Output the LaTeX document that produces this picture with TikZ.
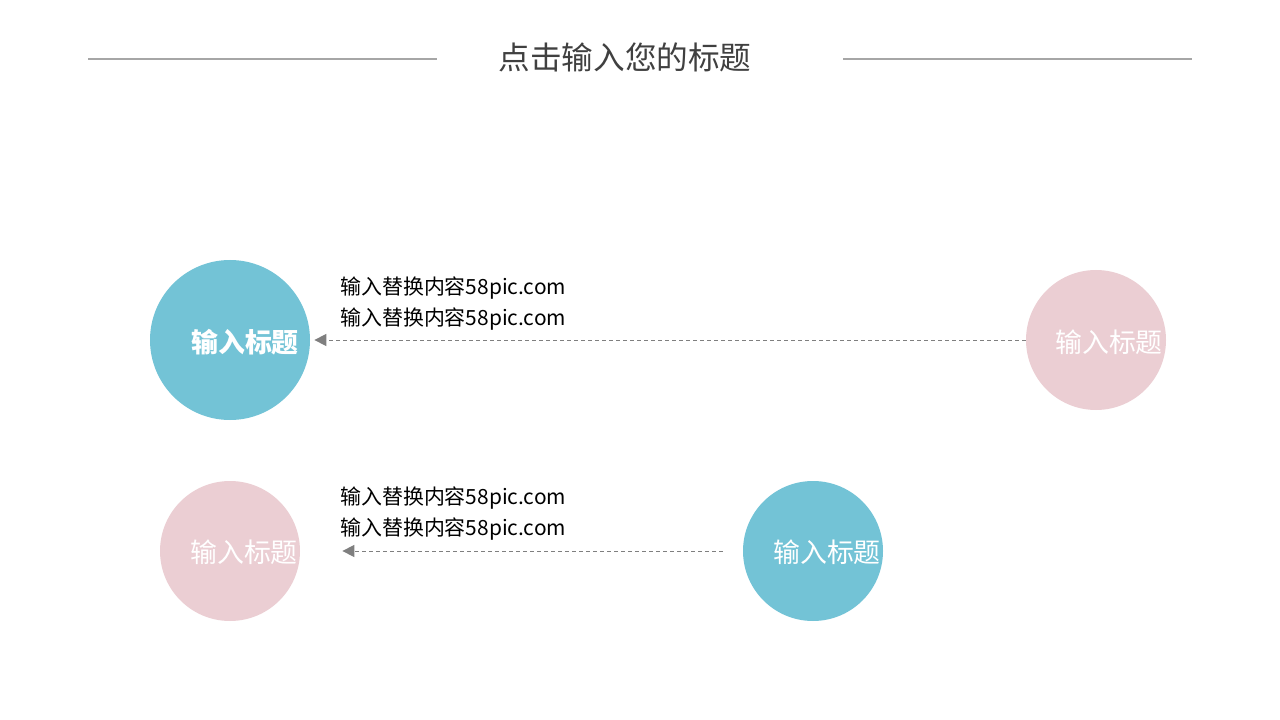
\documentclass[tikz,border=0pt]{standalone}
\usepackage{fontspec}
\setmainfont{Noto Sans CJK SC}
\usetikzlibrary{arrows.meta}

\definecolor{blueball}{HTML}{73C3D6}
\definecolor{pinkball}{HTML}{EBCED3}
\definecolor{rulegray}{HTML}{A6A6A6}
\definecolor{titlegray}{HTML}{404040}
\definecolor{linkgray}{HTML}{7F7F7F}

\tikzset{
  ball/.style={circle, inner sep=0pt, minimum size=#1},
  balltext/.style={text=white, font=\fontsize{15.3pt}{18pt}\selectfont, inner sep=0pt},
  note/.style={anchor=west, inner sep=0pt, text=black,
    font=\fontsize{11.9pt}{14pt}\selectfont},
  link/.style={draw=linkgray, line width=0.55pt, dash pattern=on 0.8mm off 0.6mm,
    -{Triangle[length=2.4mm,width=2.4mm,fill=linkgray]}}
}

\begin{document}
\begin{tikzpicture}[x=0.2mm, y=-0.2mm]
    \useasboundingbox (0, 0) rectangle (1280, 720);

    % title and rules
    \node[text=titlegray, font=\fontsize{18pt}{22pt}\selectfont] (title) at (625, 57) {点击输入您的标题};
    \coordinate (ruleL1) at (88, 59);
    \coordinate (ruleL2) at (437, 59);
    \coordinate (ruleR1) at (843, 59);
    \coordinate (ruleR2) at (1192, 59);
    \draw[rulegray, line width=0.6pt] (ruleL1) -- (ruleL2);
    \draw[rulegray, line width=0.6pt] (ruleR1) -- (ruleR2);

    % upper row
    \node[ball=32mm, fill=blueball] (blueA) at (230, 340) {};
    \node[balltext, font=\fontsize{15.3pt}{18pt}\selectfont\bfseries] (blueAtxt) at (245, 342) {输入标题};

    \node[ball=28mm, fill=pinkball] (pinkA) at (1096, 340) {};
    \node[balltext] (pinkAtxt) at (1109, 342) {输入标题};

    \node[note] (noteA1) at (340, 288) {输入替换内容58pic.com};
    \node[note] (noteA2) at (340, 319) {输入替换内容58pic.com};

    \draw[link, shorten >=0.8mm] (pinkA) -- (blueA);

    % lower row
    \node[ball=28mm, fill=pinkball] (pinkB) at (230, 551) {};
    \node[balltext] (pinkBtxt) at (244, 552) {输入标题};

    \node[ball=28mm, fill=blueball] (blueB) at (813, 551) {};
    \node[balltext] (blueBtxt) at (827, 552) {输入标题};

    \node[note] (noteB1) at (340, 498) {输入替换内容58pic.com};
    \node[note] (noteB2) at (340, 529) {输入替换内容58pic.com};

    \draw[link, shorten <=4mm, shorten >=8.4mm] (blueB) -- (pinkB);
\end{tikzpicture}
\end{document}
